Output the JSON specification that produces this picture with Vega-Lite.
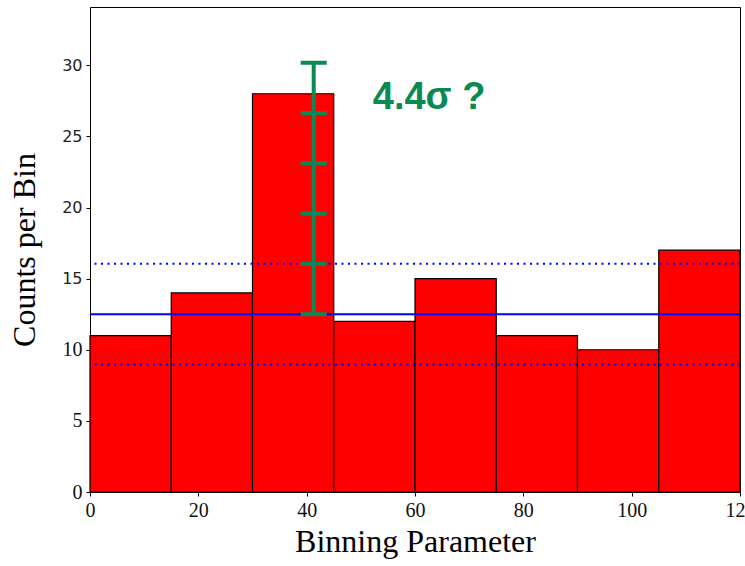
{
  "$schema": "https://vega.github.io/schema/vega-lite/v6.json",
  "autosize": {"type": "none"},
  "padding": {"left": 90, "top": 7, "right": 5, "bottom": 74},
  "width": 650,
  "height": 485,
  "background": "white",
  "config": {
    "view": {"stroke": "black", "strokeWidth": 1},
    "axis": {"grid": false, "domain": false, "tickColor": "black", "tickWidth": 1, "tickSize": 4, "labelColor": "#222", "titleColor": "black", "titleFontWeight": "normal"}
  },
  "resolve": {"axis": {"y": "independent"}},
  "datasets": {
    "bins": [
      {"start": 0, "end": 15, "count": 11},
      {"start": 15, "end": 30, "count": 14},
      {"start": 30, "end": 45, "count": 28},
      {"start": 45, "end": 60, "count": 12},
      {"start": 60, "end": 75, "count": 15},
      {"start": 75, "end": 90, "count": 11},
      {"start": 90, "end": 105, "count": 10},
      {"start": 105, "end": 120, "count": 17}
    ],
    "mean": [{"level": 12.5}],
    "band": [{"level": 16.04}, {"level": 8.96}],
    "err": [{"x": 41.3, "low": 12.5, "high": 30.18}],
    "errticks": [
      {"x": 41.3, "y": 12.5},
      {"x": 41.3, "y": 16.04},
      {"x": 41.3, "y": 19.57},
      {"x": 41.3, "y": 23.11},
      {"x": 41.3, "y": 26.64},
      {"x": 41.3, "y": 30.18}
    ],
    "label": [{"x": 52.2, "y": 26.9, "text": "4.4σ ?"}]
  },
  "layer": [
    {
      "data": {"name": "bins"},
      "mark": {"type": "rect", "fill": "#ff0000", "stroke": "black", "strokeWidth": 1.2},
      "encoding": {
        "x": {
          "field": "start", "type": "quantitative",
          "scale": {"domain": [0, 120], "nice": false, "zero": false},
          "axis": {
            "values": [0, 20, 40, 60, 80, 100, 120],
            "title": "Binning Parameter",
            "titleFont": "Liberation Serif", "titleFontSize": 32, "titlePadding": 6,
            "labelFont": "Liberation Serif", "labelFontSize": 20, "labelPadding": 4,
            "labelColor": "#111", "labelFlush": false
          }
        },
        "x2": {"field": "end"},
        "y": {
          "field": "count", "type": "quantitative",
          "scale": {"domain": [0, 34.1], "nice": false},
          "axis": {
            "orient": "left",
            "values": [15, 20, 25, 30],
            "title": "Counts per Bin",
            "titleFont": "Liberation Serif", "titleFontSize": 32, "titlePadding": 20,
            "labelFont": "DejaVu Sans",
            "labelFontSize": 16,
            "labelPadding": 4
          }
        },
        "y2": {"datum": 0}
      }
    },
    {
      "data": {"name": "mean"},
      "mark": {"type": "rule", "color": "#0000ff", "strokeWidth": 2},
      "encoding": {
        "y": {
          "field": "level", "type": "quantitative",
          "scale": {"domain": [0, 34.1], "nice": false},
          "axis": {
            "orient": "left",
            "values": [0, 5, 10],
            "title": null,
            "labelFont": "Liberation Serif",
            "labelFontSize": 20,
            "labelColor": "#111",
            "labelPadding": 4
          }
        }
      }
    },
    {
      "data": {"name": "band"},
      "mark": {"type": "rule", "color": "#0000ff", "strokeWidth": 2, "strokeDash": [2, 4.5]},
      "encoding": {"y": {"field": "level", "type": "quantitative", "axis": null}}
    },
    {
      "data": {"name": "err"},
      "mark": {"type": "rule", "color": "#0a8a52", "strokeWidth": 4},
      "encoding": {
        "x": {"field": "x", "type": "quantitative"},
        "y": {"field": "low", "type": "quantitative", "axis": null},
        "y2": {"field": "high"}
      }
    },
    {
      "data": {"name": "errticks"},
      "mark": {"type": "tick", "orient": "horizontal", "color": "#0a8a52", "size": 26, "thickness": 4, "opacity": 1},
      "encoding": {
        "x": {"field": "x", "type": "quantitative"},
        "y": {"field": "y", "type": "quantitative", "axis": null}
      }
    },
    {
      "data": {"name": "label"},
      "mark": {"type": "text", "color": "#0a8a52", "font": "Liberation Sans", "fontWeight": "bold", "fontSize": 38, "align": "left", "baseline": "alphabetic"},
      "encoding": {
        "x": {"field": "x", "type": "quantitative"},
        "y": {"field": "y", "type": "quantitative", "axis": null},
        "text": {"field": "text"}
      }
    }
  ]
}
